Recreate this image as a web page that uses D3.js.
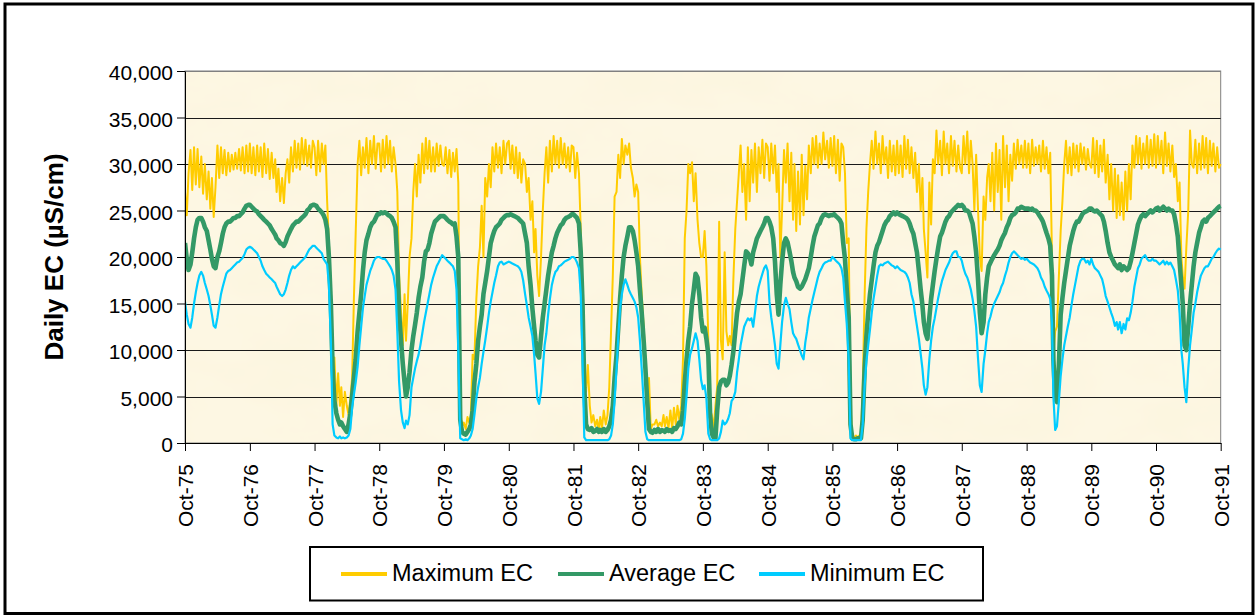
<!DOCTYPE html>
<html>
<head>
<meta charset="utf-8">
<script src="https://cdn.jsdelivr.net/npm/d3@7"></script>
<style>
  body { margin: 0; background: #fff; }
  svg text { font-family: Arial, "Liberation Sans", sans-serif; }
</style>
</head>
<body>
<svg id="chart" width="1256" height="615"></svg>
<script>
// Daily EC record, sampled on the 1st, 11th and 21st of each month,
// October 1975 to October 1991. One row per water year (Oct–Sep).
// Values are in hundreds of µS/cm.
const startYear = 1975;
const startMonth = 9;          // October (0-based)
const samplesPerMonth = 3;
const valueUnit = 100;

const maxEC = [
  270,245,290, 315,272,318, 278,316,275, 308,268,300, 262,292,252, 285,243,275, 320,285,318, 290,315,288, 312,292,310, 294,312,295, 316,293,318, 290,320,292,
  322,290,318, 288,320,292, 318,286,322, 290,316,284, 312,285,305, 270,295,260, 285,258,290, 305,280,318, 292,325,296, 322,294,328, 300,326,298, 320,296,325,
  318,288,325, 292,322,300, 320,260,215, 165,90,92, 40,75,40, 60,28,55, 40,30,48, 70,155,225, 300,325,288, 318,296,328, 290,325,300, 330,295,322,
  322,292,326, 296,330,300, 325,292,318, 300,270,180, 140,105,160, 110,150,200, 220,270,300, 265,310,280, 322,290,328, 295,325,292, 318,292,322, 298,320,300,
  298,318,290, 315,286,312, 292,316,280, 35,18,22, 15,28,22, 30,95,90, 155,190,210, 255,200,285, 265,300,275, 318,292,322, 296,318,290, 325,300,322,
  325,295,320, 290,318,285, 312,280,305, 300,270,285, 240,260,205, 230,180,158, 200,250,290, 318,280,325, 292,330,300, 325,296,328, 300,322,296, 318,292,320,
  318,285,312, 290,230,160, 70,55,84, 40,22,30, 18,25,14, 28,16,35, 20,30,60, 120,180,265, 270,310,285, 327,300,320, 310,322,296, 285,265,278,
  270,200,160, 125,90,50, 70,15,20, 20,25,18, 22,18,30, 18,28,16, 35,15,38, 20,40,25, 40,90,220, 250,300,290, 302,260,290, 240,215,200,
  200,228,190, 110,35,30, 15,40,60, 238,110,90, 205,120,105, 115,105,175, 230,260,290, 320,270,300, 240,318,260, 315,280,322, 270,318,290, 326,285,322,
  318,282,322, 290,320,270, 300,200,250, 315,280,322, 260,312,240, 300,228,292, 235,310,245, 298,262,320, 290,328,300, 330,296,322, 300,334,305, 325,296,328,
  298,330,290, 326,282,322, 318,290,215, 220,40,8, 6,8,6, 8,6,60, 160,230,270, 300,325,295, 335,300,322, 290,330,300, 318,285,325, 292,320,288,
  325,290,320, 286,330,295, 326,290,318, 285,312,270, 300,250,285, 230,205,178, 280,235,305, 290,336,300, 325,288,335, 300,322,290, 330,298,325, 292,320,296,
  290,330,300, 335,290,325, 300,250,310, 250,200,185, 265,240,285, 300,260,312, 250,322,270, 315,240,330, 275,320,260, 310,282,322, 295,326,300, 320,296,325,
  296,322,290, 326,298,318, 300,320,292, 325,295,318, 290,312,200, 95,120,125, 180,228,260, 300,325,290, 318,288,322, 296,320,292, 322,300,318, 294,316,300,
  296,328,290, 325,286,320, 292,326,280, 310,262,300, 250,295,242, 288,245,280, 240,292,250, 300,262,320, 296,330,300, 328,295,322, 300,330,296, 326,298,332,
  296,330,300, 325,290,334, 298,322,292, 320,286,300, 260,280,200, 180,166,210, 250,336,300, 296,326,290, 322,294,330, 296,328,290, 325,298,322, 292,318,296,
  300
];

const avgEC = [
  215,198,186, 192,205,220, 232,240,242, 242,238,232, 228,218,208, 198,190,188, 200,206,215, 225,232,236, 238,238,240, 242,242,244, 244,246,248, 252,255,256,
  256,254,252, 250,249,246, 244,242,240, 238,236,234, 230,227,224, 220,218,215, 214,212,216, 222,226,230, 234,236,238, 238,240,242, 244,246,250, 252,255,256,
  256,255,252, 250,248,245, 240,230,200, 150,80,45, 32,25,20, 22,18,15, 12,20,32, 50,70,90, 120,140,160, 185,205,218, 225,232,236, 238,242,246,
  246,248,247, 248,247,245, 244,242,238, 232,195,140, 110,85,65, 50,60,76, 100,115,127, 140,156,168, 178,195,206, 208,215,225, 232,238,240, 242,244,244,
  244,242,240, 238,237,235, 236,222,200, 25,12,10, 9,12,15, 20,35,65, 85,110,125, 138,160,172, 185,200,215, 222,228,232, 234,236,240, 242,244,245,
  245,246,245, 244,243,242, 240,238,236, 225,215,190, 170,145,125, 110,95,92, 115,135,150, 165,180,192, 205,212,220, 226,230,234, 236,240,242, 243,244,246,
  246,244,242, 236,205,150, 60,20,15, 14,16,12, 13,15,12, 14,12,15, 12,14,18, 25,40,70, 95,125,155, 180,200,212, 222,232,232, 228,218,205,
  190,165,140, 110,80,45, 15,12,11, 14,12,15, 12,14,13, 12,15,13, 14,12,16, 15,18,22, 20,35,65, 90,110,125, 150,165,182, 178,160,135,
  120,124,112, 95,30,10, 6,5,35, 60,66,68, 68,62,65, 72,84,98, 120,140,152, 160,175,190, 206,204,200, 192,205,212, 220,224,228, 232,236,242,
  242,238,232, 220,195,160, 138,170,195, 215,220,216, 206,196,184, 178,174,168, 166,168,172, 176,182,188, 200,212,222, 228,234,236, 242,245,246, 245,244,245,
  245,246,244, 242,240,236, 215,198,165, 135,20,5, 4,4,5, 5,5,25, 80,115,140, 160,175,190, 205,212,216, 222,228,234, 238,240,244, 246,248,246,
  248,246,245, 244,243,242, 240,236,230, 225,215,205, 185,165,148, 130,118,112, 135,155,170, 185,198,210, 222,226,232, 238,242,244, 248,250,252, 254,256,255,
  256,254,250, 250,248,242, 236,222,205, 175,140,118, 130,160,178, 190,194,198, 202,205,208, 212,218,222, 226,232,236, 242,245,246, 248,252,252, 254,253,252,
  252,252,251, 252,250,250, 248,245,242, 238,232,226, 220,212,180, 90,48,44, 84,138,156, 172,185,198, 212,220,228, 234,238,238, 242,246,248, 249,250,252,
  252,250,249, 250,248,246, 244,238,228, 215,205,200, 196,192,190, 188,192,186, 190,188,186, 188,195,204, 215,225,235, 240,244,246, 244,246,248, 250,248,250,
  252,253,250, 252,254,252, 250,252,250, 250,246,236, 222,195,170, 150,105,100, 125,150,170, 190,205,215, 226,232,238, 240,238,242, 244,246,248, 250,252,254,
  255
];

const minEC = [
  152,138,128, 124,135,150, 162,172,180, 184,180,172, 165,158,148, 138,126,124, 135,148,160, 168,175,182, 185,186,188, 190,192,194, 195,197,199, 203,208,210,
  211,210,208, 206,204,200, 196,190,186, 182,180,178, 176,174,172, 168,164,160, 158,160,165, 172,180,186, 190,188,190, 192,194,196, 198,200,204, 208,210,212,
  212,210,208, 206,204,198, 195,192,170, 110,20,8, 6,5,7, 5,6,5, 6,8,15, 38,52,65, 82,105,125, 145,158,170, 178,185,190, 196,199,200,
  200,199,198, 198,196,193, 190,186,180, 165,120,66, 35,22,16, 24,20,30, 60,70,80, 88,95,105, 118,130,140, 150,160,170, 178,184,190, 194,198,202,
  200,198,196, 194,192,190, 185,165,100, 5,4,3, 4,3,5, 8,15,30, 48,60,70, 85,98,110, 125,140,152, 162,172,180, 190,194,195, 192,193,194,
  195,194,193, 192,191,190, 188,184,175, 160,148,135, 125,115,95, 75,48,42, 55,80,105, 118,138,155, 170,178,184, 186,190,191, 193,195,196, 197,198,200,
  200,198,194, 188,160,90, 6,3,3, 3,3,3, 3,3,3, 3,3,3, 3,3,4, 8,20,45, 80,115,145, 160,170,176, 170,164,160, 156,152,146,
  135,110,80, 45,12,4, 3,3,3, 3,3,3, 3,3,3, 3,3,3, 3,3,3, 3,3,3, 4,10,26, 50,80,95, 102,110,118, 110,90,68,
  58,62,48, 10,4,3, 3,3,3, 5,12,24, 20,22,26, 32,45,48, 55,76,90, 105,115,125, 130,134,132, 134,125,140, 158,168,175, 182,188,191,
  185,152,135, 120,105,85, 80,105,130, 148,156,150, 144,130,118, 115,112,106, 100,94,90, 108,120,135, 145,154,162, 170,178,184, 188,192,194, 195,196,196,
  200,198,196, 194,192,188, 178,152,128, 90,5,3, 3,3,3, 3,3,20, 62,88,105, 122,140,155, 168,180,190, 192,191,193, 194,195,193, 191,190,188,
  190,188,186, 185,184,182, 178,172,160, 152,138,126, 112,96,80, 62,52,60, 90,110,125, 134,145,156, 166,174,180, 186,190,194, 200,204,206, 206,200,200,
  196,188,182, 178,172,165, 155,142,125, 90,62,55, 85,100,118, 130,136,144, 150,154,158, 162,168,172, 180,186,194, 200,204,206, 204,202,200, 198,199,197,
  198,196,194, 193,192,190, 188,184,178, 174,168,164, 160,155,130, 50,14,18, 45,72,90, 105,115,125, 135,148,160, 170,180,190, 196,198,198, 194,196,192,
  198,192,188, 186,184,180, 176,168,158, 152,146,140, 134,126,130, 122,130,118, 128,122,134, 132,140,152, 168,178,188, 192,198,200, 202,198,196, 196,198,196,
  196,194,192, 194,196,192, 195,192,194, 190,186,176, 164,140,100, 85,60,44, 80,105,122, 140,150,162, 172,180,184, 188,190,190, 194,198,200, 204,207,209,
  208
];

const seriesNames = ["Maximum EC", "Average EC", "Minimum EC"];
const yTickValues = [0, 5000, 10000, 15000, 20000, 25000, 30000, 35000, 40000];
const xTickYears = [1975, 1976, 1977, 1978, 1979, 1980, 1981, 1982, 1983,
                    1984, 1985, 1986, 1987, 1988, 1989, 1990, 1991];
const yTitle = "Daily EC (µS/cm)";

// ---------- drawing ----------
const W = 1256, H = 615;
const plot = { left: 185, top: 71, right: 1220.7, bottom: 443 };
const lineStyle = {
  "Maximum EC": { color: "#FFCC00", width: 2.0 },
  "Average EC": { color: "#339966", width: 4.6 },
  "Minimum EC": { color: "#00CCFF", width: 2.2 }
};

const svg = d3.select("#chart");
svg.append("rect").attr("width", W).attr("height", H).attr("fill", "#fff");

// parchment-style fill for the plot area
const defs = svg.append("defs");
const paper = defs.append("filter").attr("id", "paper")
  .attr("x", 0).attr("y", 0).attr("width", "100%").attr("height", "100%");
paper.append("feTurbulence").attr("type", "fractalNoise")
  .attr("baseFrequency", "0.012 0.02").attr("numOctaves", 4).attr("seed", 11);
paper.append("feColorMatrix").attr("type", "matrix")
  .attr("values", "0 0 0 0 0.93  0 0 0 0 0.84  0 0 0 0 0.6  0.32 0 0 0 -0.11");

const sampleDate = i => new Date(startYear, startMonth + Math.floor(i / samplesPerMonth),
                                 1 + 10 * (i % samplesPerMonth));

const x = d3.scaleTime()
  .domain([new Date(startYear, startMonth, 1), new Date(1991, startMonth, 1)])
  .range([plot.left, plot.right]);
const y = d3.scaleLinear().domain([0, 40000]).range([plot.bottom, plot.top]);

// plot area
svg.append("rect")
  .attr("x", plot.left).attr("y", plot.top)
  .attr("width", plot.right - plot.left).attr("height", plot.bottom - plot.top)
  .attr("fill", "#FDF7E3");
svg.append("rect")
  .attr("x", plot.left).attr("y", plot.top)
  .attr("width", plot.right - plot.left).attr("height", plot.bottom - plot.top)
  .attr("fill", "#fff").attr("filter", "url(#paper)");
svg.append("rect")
  .attr("x", plot.left).attr("y", plot.top)
  .attr("width", plot.right - plot.left).attr("height", plot.bottom - plot.top)
  .attr("fill", "none").attr("stroke", "#808080").attr("stroke-width", 1);

// horizontal gridlines
svg.append("g").selectAll("line")
  .data(yTickValues.filter(d => d > 0))
  .join("line")
  .attr("x1", plot.left).attr("x2", plot.right)
  .attr("y1", d => Math.round(y(d)) + 0.5).attr("y2", d => Math.round(y(d)) + 0.5)
  .attr("stroke", d => d === 40000 ? "#808080" : "#1a1a1a").attr("stroke-width", 1);

// series
svg.append("clipPath").attr("id", "plotClip").append("rect")
  .attr("x", plot.left).attr("y", plot.top - 2)
  .attr("width", plot.right - plot.left + 1).attr("height", plot.bottom - plot.top + 2);

const series = [
  { name: seriesNames[0], values: maxEC },
  { name: seriesNames[1], values: avgEC },
  { name: seriesNames[2], values: minEC }
];

const line = d3.line()
  .x((d, i) => x(sampleDate(i)))
  .y(d => y(d * valueUnit));

svg.append("g").attr("clip-path", "url(#plotClip)")
  .selectAll("path")
  .data(series)
  .join("path")
  .attr("d", s => line(s.values))
  .attr("fill", "none")
  .attr("stroke", s => lineStyle[s.name].color)
  .attr("stroke-width", s => lineStyle[s.name].width)
  .attr("stroke-linejoin", "round");

// y axis
const yAxis = svg.append("g")
  .attr("transform", `translate(${plot.left},0)`)
  .call(d3.axisLeft(y).tickValues(yTickValues).tickSize(8).tickSizeOuter(0)
    .tickPadding(4).tickFormat(d3.format(",")));
yAxis.select(".domain").attr("stroke", "#000");
yAxis.selectAll(".tick line").attr("stroke", "#000");
yAxis.selectAll(".tick text")
  .attr("font-size", 21).attr("font-family", "Arial, 'Liberation Sans', sans-serif")
  .attr("fill", "#000").attr("dy", "0.42em");

// x axis
const xAxis = svg.append("g")
  .attr("transform", `translate(0,${plot.bottom})`)
  .call(d3.axisBottom(x)
    .tickValues(xTickYears.map(yr => new Date(yr, startMonth, 1)))
    .tickSize(8).tickSizeOuter(0)
    .tickFormat(d3.timeFormat("%b-%y")));
xAxis.select(".domain").attr("stroke", "#000");
xAxis.selectAll(".tick line").attr("stroke", "#000");
xAxis.selectAll(".tick text")
  .attr("font-size", 21).attr("font-family", "Arial, 'Liberation Sans', sans-serif")
  .attr("fill", "#000")
  .attr("transform", "rotate(-90)")
  .attr("text-anchor", "end")
  .attr("x", -21).attr("y", 0).attr("dy", "0.36em");

// y axis title
svg.append("text")
  .attr("transform", `translate(63,${(plot.top + plot.bottom) / 2}) rotate(-90)`)
  .attr("text-anchor", "middle")
  .attr("font-size", 26).attr("font-weight", "bold")
  .text(yTitle);

// legend
const legend = svg.append("g");
legend.append("rect")
  .attr("x", 310).attr("y", 547).attr("width", 673).attr("height", 53.5)
  .attr("fill", "#fff").attr("stroke", "#000").attr("stroke-width", 2);
const legendX = [341, 558, 759];
const legendItems = legend.selectAll("g.item").data(series).join("g").attr("class", "item")
  .attr("transform", (d, i) => `translate(${legendX[i]},0)`);
legendItems.append("line")
  .attr("x1", 0).attr("x2", 46).attr("y1", 574).attr("y2", 574)
  .attr("stroke", d => lineStyle[d.name].color).attr("stroke-width", 4);
legendItems.append("text")
  .attr("x", 51).attr("y", 581)
  .attr("font-size", 23.5).attr("fill", "#000")
  .text(d => d.name);

// outer frame
svg.append("rect")
  .attr("x", 5).attr("y", 4).attr("width", 1248).attr("height", 609.5)
  .attr("fill", "none").attr("stroke", "#000").attr("stroke-width", 3);
</script>
</body>
</html>
